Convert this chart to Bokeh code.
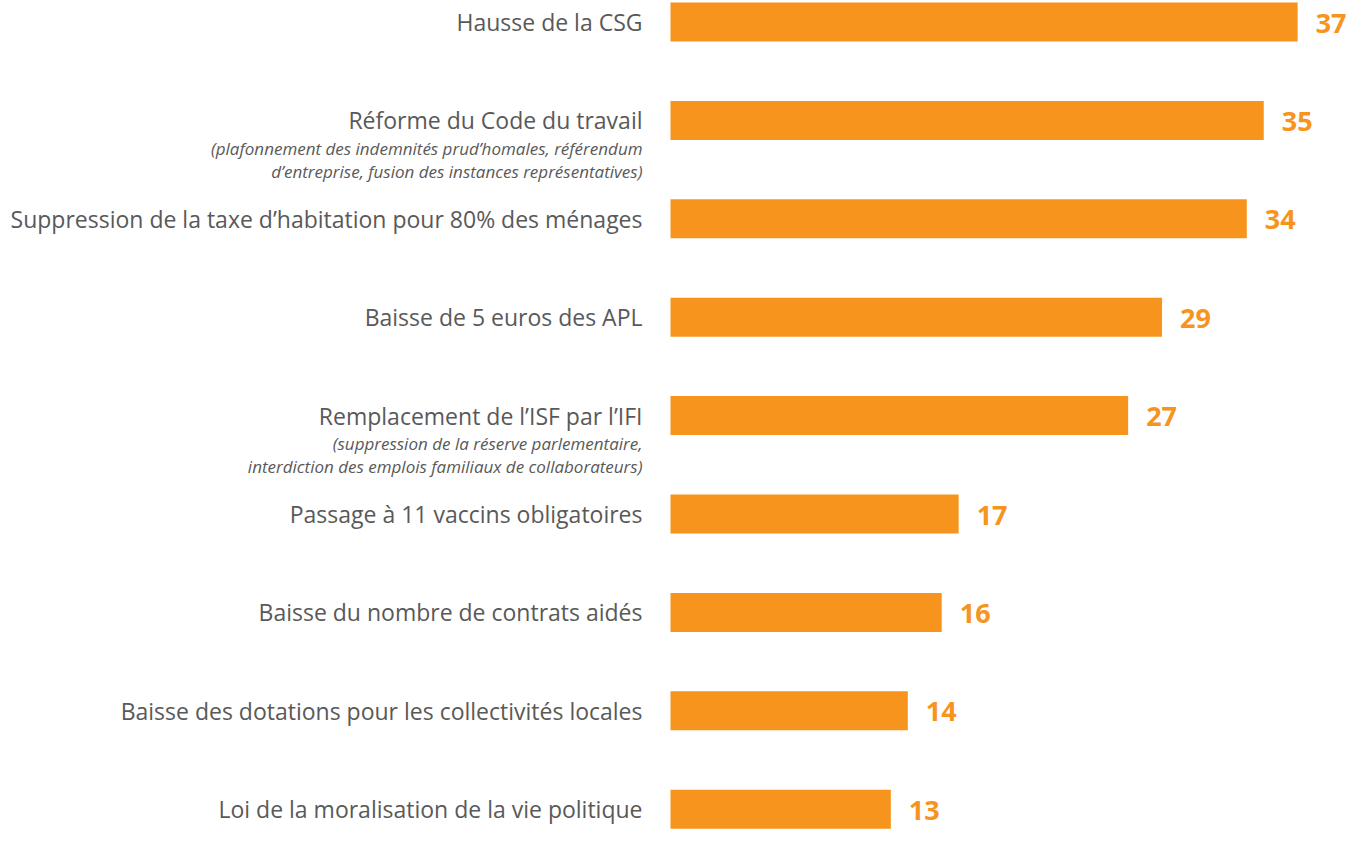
from bokeh.plotting import figure
from bokeh.models import Range1d, ColumnDataSource
from bokeh.core.properties import value
from bokeh.embed import file_html
from bokeh.resources import INLINE

labels = [
    "Hausse de la CSG",
    "Réforme du Code du travail",
    "Suppression de la taxe d’habitation pour 80% des ménages",
    "Baisse de 5 euros des APL",
    "Remplacement de l’ISF par l’IFI",
    "Passage à 11 vaccins obligatoires",
    "Baisse du nombre de contrats aidés",
    "Baisse des dotations pour les collectivités locales",
    "Loi de la moralisation de la vie politique",
]
sub1 = ["", "(plafonnement des indemnités prud’homales, référendum", "", "",
        "(suppression de la réserve parlementaire,", "", "", "", ""]
sub2 = ["", "d’entreprise, fusion des instances représentatives)", "", "",
        "interdiction des emplois familiaux de collaborateurs)", "", "", "", ""]
values = [37, 35, 34, 29, 27, 17, 16, 14, 13]

W, H = 1352, 831
PX_PER_UNIT = 16.95
BAR_LEFT_PX = 670
ROW_PX = 98.4
FIRST_CENTER_PX = 21.5

ys = [-i for i in range(len(values))]
src = ColumnDataSource(dict(y=ys, v=values, lab=labels, s1=sub1, s2=sub2,
                            vt=[str(v) for v in values]))

x0 = -BAR_LEFT_PX / PX_PER_UNIT
x1 = x0 + W / PX_PER_UNIT
yend = FIRST_CENTER_PX / ROW_PX
ystart = yend - H / ROW_PX

p = figure(width=W, height=H, output_backend="svg", toolbar_location=None,
           x_range=Range1d(x0, x1), y_range=Range1d(ystart, yend),
           min_border=0, min_border_left=0, min_border_right=0,
           min_border_top=0, min_border_bottom=0)
p.axis.visible = False
p.grid.visible = False
p.outline_line_color = None
p.background_fill_color = "white"
p.border_fill_color = "white"

p.hbar(y="y", left=0, right="v", height=39 / ROW_PX, source=src,
       fill_color="#F7941D", line_color=None)

lx = -28 / PX_PER_UNIT
grey = "#595959"
p.text(x=lx, y="y", text="lab", source=src, text_align="right",
       text_baseline="middle", text_font=value("Open Sans"),
       text_font_size="23px", text_color=grey)
p.text(x=lx, y="y", text="s1", source=src, text_align="right",
       text_baseline="middle", text_font=value("Open Sans"),
       text_font_size="17px", text_font_style="italic", text_color=grey,
       y_offset=28)
p.text(x=lx, y="y", text="s2", source=src, text_align="right",
       text_baseline="middle", text_font=value("Open Sans"),
       text_font_size="17px", text_font_style="italic", text_color=grey,
       y_offset=51)
p.text(x="v", y="y", text="vt", source=src, text_align="left",
       text_baseline="middle", text_font=value("Open Sans"),
       text_font_size="27px", text_font_style="bold", text_color="#F7941D",
       x_offset=18, y_offset=1)

open("out.html", "w").write(file_html(p, INLINE))
